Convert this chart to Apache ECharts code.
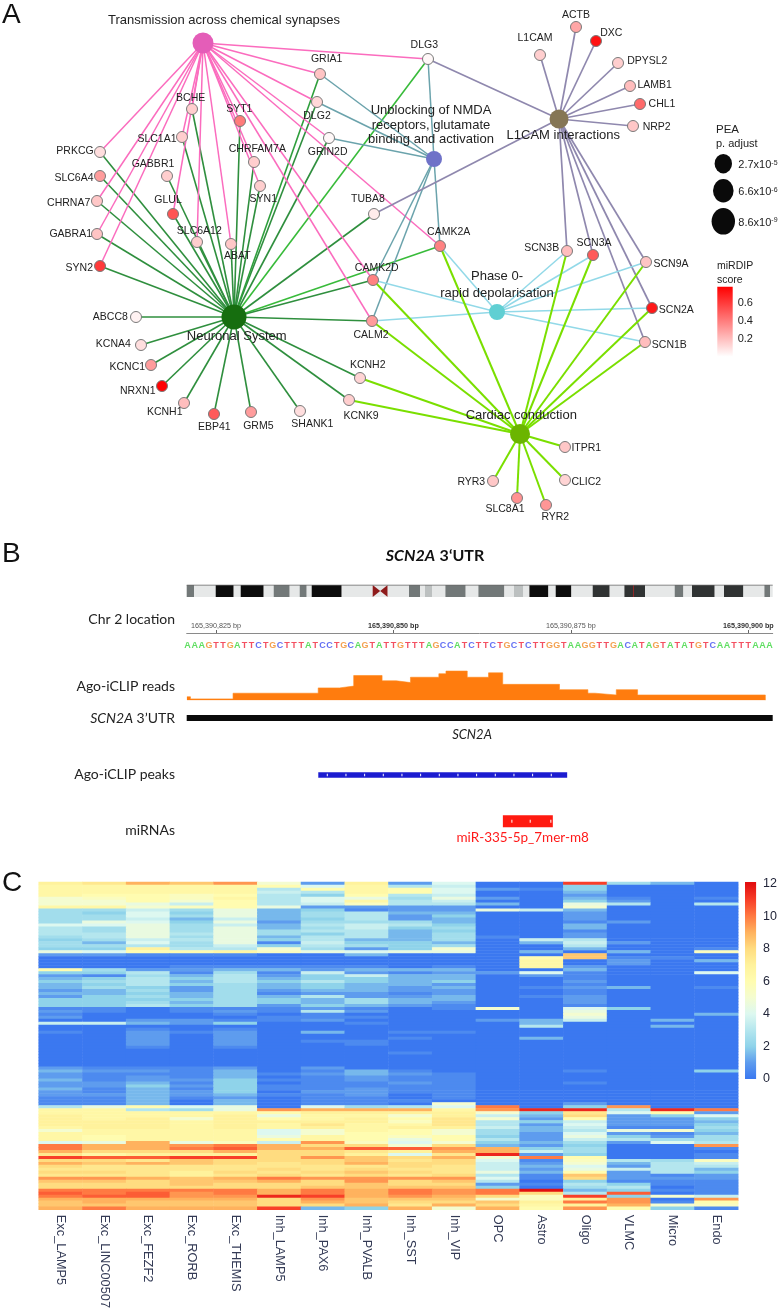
<!DOCTYPE html>
<html><head><meta charset="utf-8">
<style>html,body{margin:0;padding:0;background:#fff}#c{width:780px;height:1311px}</style>
<script src="https://cdn.jsdelivr.net/npm/echarts@6/dist/echarts.min.js"></script>
</head><body><div id="c"></div>
<script>
// ---------- Panel A data ----------
const geneNames = ["GRIA1","DLG2","GRIN2D","BCHE","SYT1","SLC1A1","CHRFAM7A","SYN1","PRKCG","SLC6A4","GABBR1","GLUL","CHRNA7","GABRA1","SLC6A12","ABAT","TUBA8","SYN2","DLG3","L1CAM","ACTB","DXC","DPYSL2","LAMB1","CHL1","NRP2","CAMK2A","SCN3B","SCN3A","SCN9A","CAMK2D","CALM2","ABCC8","KCNA4","KCNC1","NRXN1","KCNH1","EBP41","GRM5","SHANK1","KCNK9","KCNH2","SCN2A","SCN1B","ITPR1","CLIC2","RYR3","SLC8A1","RYR2"];
const geneX = [320,317,329,192,240,182,254,260,100,100,167,173,97,97,197,231,374,100,428,540,576,596,618,630,640,633,440,567,593,646,373,372,136,141,151,162,184,214,251,300,349,360,652,645,565,565,493,517,546];
const geneY = [74,102,138,109,121,137,162,186,152,176,176,214,201,234,242,244,214,266,59,55,27,41,63,86,104,126,246,251,255,262,280,321,317,345,365,386,403,414,412,411,400,378,308,342,447,480,481,498,505];
const geneScore = [.18,.12,.02,.15,.4,.15,.15,.15,.1,.3,.15,.52,.17,.18,.15,.17,.06,.6,.02,.15,.27,.72,.15,.2,.45,.17,.38,.2,.5,.18,.38,.3,.04,.1,.3,.77,.2,.5,.3,.1,.15,.13,.7,.2,.17,.13,.17,.33,.32];
const pathwayNames = ["Transmission across chemical synapses","Neuronal System","L1CAM interactions","Unblocking of NMDA\nreceptors, glutamate\nbinding and activation","Phase 0-\nrapid depolarisation","Cardiac conduction"];
const pathwayX = [203,234,559,434,497,520];
const pathwayY = [43,317,119,159,312,434];
const transmissionGenes = ["PRKCG","CHRNA7","GABRA1","SYN2","BCHE","SLC1A1","GLUL","SLC6A12","ABAT","SYT1","CHRFAM7A","SYN1","GRIA1","DLG2","GRIN2D","DLG3","CAMK2A","CAMK2D","CALM2"];
const neuronalGenes = ["PRKCG","SLC6A4","CHRNA7","GABRA1","SYN2","BCHE","SLC1A1","GABBR1","GLUL","SLC6A12","ABAT","SYT1","CHRFAM7A","SYN1","DLG2","GRIA1","GRIN2D","DLG3","TUBA8","CAMK2A","CAMK2D","CALM2","ABCC8","KCNA4","KCNC1","NRXN1","KCNH1","EBP41","GRM5","SHANK1","KCNK9","KCNH2"];
const l1camGenes = ["DLG3","TUBA8","L1CAM","ACTB","DXC","DPYSL2","LAMB1","CHL1","NRP2","SCN3B","SCN3A","SCN9A","SCN2A","SCN1B"];
const nmdaGenes = ["GRIA1","DLG2","GRIN2D","DLG3","CAMK2A","CAMK2D","CALM2"];
const phaseGenes = ["CAMK2A","CAMK2D","CALM2","SCN3B","SCN3A","SCN9A","SCN2A","SCN1B"];
const cardiacGenes = ["CAMK2A","CAMK2D","CALM2","KCNH2","KCNK9","SCN3B","SCN3A","SCN9A","SCN2A","SCN1B","ITPR1","CLIC2","RYR3","SLC8A1","RYR2"];
const peaLegendValues = ["2.7x10{s|-5}","6.6x10{s|-6}","8.6x10{s|-9}"];
const miRDIPTicks = [0.2,0.4,0.6];

// ---------- Panel B data ----------
const ideogramBands = [[0,7.3,"gray"],[7.3,29,"light"],[29,47,"black"],[47,54,"light"],[54,77,"black"],[77,87,"light"],[87,103,"gray"],[103,113,"light"],[113,120,"gray"],[120,125,"light"],[125,155,"black"],[155,186,"light"],[186,201,"cen"],[201,222.3,"light"],[222.3,233.3,"gray"],[233.3,238.3,"light"],[238.3,245.3,"pale"],[245.3,258.7,"light"],[258.7,279,"gray"],[279,291.7,"light"],[291.7,317.7,"gray"],[317.7,327.3,"light"],[327.3,336.7,"pale"],[336.7,342.7,"light"],[342.7,361.7,"black"],[361.7,369,"light"],[369,384.7,"black"],[384.7,406,"light"],[406,423,"dark"],[423,437.7,"light"],[437.7,458.3,"dark"],[458.3,488,"light"],[488,496.7,"gray"],[496.7,505.3,"light"],[505.3,528,"dark"],[528,537.3,"light"],[537.3,556.7,"dark"],[556.7,577.7,"light"],[577.7,583.3,"gray"],[583.3,586,"light"],[446.4,447,"mark"]];
const rulerTicks = [165390825,165390850,165390875,165390900];
const boldRulerTicks = [165390850,165390900];
const sequence = "AAAGTTGATTCTGCTTTATCCTGCAGTATTGTTTAGCCATCTTCTGCTCTTGGTAAGGTTGACATAGTATATGTCAATTTAAA";
const readsBp = [820.9,821.4,827.4,839.4,842.4,844.4,848.4,850.4,852.4,856.4,857.4,860.4,863.4,865.4,873.4,877.4,878.4,881.4,884.4,902.4,902.41];
const readsCount = [2,0.8,4,7,8,14,11,10,13,15,16.5,13,15.5,9,6,4,3,6,3,3,0];
const utrSpan = [165390820.87,165390903.44];
const peakSpan = [165390839.41,165390874.48];
const mirnaSpan = [165390865.42,165390872.46];
const peakMarks = [840.68,843.31,845.94,848.57,851.2,853.83,856.46,859.09,861.72,864.35,866.98,869.61,872.24];
const mirnaMarks = [866.69,869.27,872.18];

// ---------- Panel C data ----------
const cellTypes = ["Exc_LAMP5","Exc_LINC00507","Exc_FEZF2","Exc_RORB","Exc_THEMIS","Inh_LAMP5","Inh_PAX6","Inh_PVALB","Inh_SST","Inh_VIP","OPC","Astro","Oligo","VLMC","Micro","Endo"];
const heatUpper = [
[7,7.5,9,8.5,9.5,5,1,7,1,4,0,0,11,2.5,1.5,0],
[6.5,6.5,6.5,6.5,6.5,6,4,6.5,3,3.5,0,0,2,0,0,0],
[6.5,6.5,6.5,6.5,6.5,3,6,6.5,6,4,1,.5,2,0,0,0],
[6.5,6.5,6.5,6.5,6.5,3.5,3,6.5,6,4,0,0,1.5,0,0,0],
[6.5,6,6,5.5,6,3,2,6,3,3.5,0,0,1,0,0,0],
[5,5.5,6,5.5,6.5,3,4,4.5,2.5,4.5,1,0,1.5,.5,0,.5],
[5,5,6,5,6,3,4,6.5,3,3.5,0,0,2,1,0,0],
[5,5,4.5,3.5,6,3,3.5,5.5,3,3,1.5,0,4.5,3,0,3],
[6.5,6.5,5,5.5,6,4.5,1,1,1,1,0,0,5,0,0,0],
[2.5,2.5,3.5,2.5,4.5,1.5,2,.5,1,1,4.5,3.5,1.5,0,0,0],
[2.5,2,4,2,4.5,1.5,2.5,3,1.5,1.5,0,0,1,0,0,0],
[2.5,2.5,4,2.5,4.5,1.5,2.5,3,1,2,0,0,1,0,0,0],
[2.5,2.5,3.5,1.5,3.5,1.5,2,3,1,1.5,0,0,1,0,0,0],
[2.5,4.5,4,2,4.5,1,2.5,2.5,2.5,1.5,0,0,.5,1,0,0],
[4,4,4.5,2.5,3.5,1.5,3,3.5,3,2,0,0,1.5,0,0,0],
[3,2.5,4.5,2.5,4.5,1.5,2.5,3.5,2,2.5,0,0,1.5,0,0,0],
[3,2.5,4.5,2.5,4.5,2.5,3,3,1.5,2,0,0,.5,0,0,0],
[3,3,4.5,3,4.5,2.5,2,3,1.5,2.5,0,0,1,0,0,0],
[2.5,3,4.5,2.5,4.5,1.5,3,3,1.5,2.5,.5,0,1,0,0,0],
[2,2.5,3.5,3,4.5,2,3,1.5,1.5,2.5,0,3.5,3,0,0,0],
[2.5,1.5,4,2.5,4.5,.5,3.5,2,2,1.5,0,1.5,3.5,1,0,0],
[2.5,2.5,3,2.5,3.5,2,3,2.5,2,2.5,0,0,3,0,0,0],
[2,2,7,3,3,5,2.5,1,2,5,0,0,1.5,0,0,.5],
[4.5,4,6,6,6.5,5.5,4.5,4,4.5,4.5,0,1.5,0,1.5,0,5.5]];
const heatMiddle = [
[1,1,.5,.5,.5,0,0,1.5,0,0,0,0,8.5,0,0,0],
[0,0,0,0,0,0,0,0,0,0,0,6,8.5,.5,.5,0],
[0,0,0,0,0,0,0,0,0,0,0,6.5,0,1,0,1.5],
[0,0,0,0,0,0,0,0,0,0,0,6.5,0,1,0,0],
[0,0,0,.5,.5,.5,.5,.5,0,.5,0,6.5,1,0,0,0],
[6,2.5,1,1,1.5,1.5,1,1.5,1.5,1.5,0,0,1.5,0,0,0],
[2,2,3,.5,2.5,.5,3.5,1,.5,1,1,4,.5,0,0,4],
[1,.5,2.5,1.5,3,1,2,3.5,1.5,1.5,0,1,.5,0,0,0],
[1.5,2,3,2,3,1.5,2,2,1.5,1.5,0,0,.5,0,0,0],
[2,2.5,3,1.5,3,2,3,2,1.5,2,0,0,1,0,0,0],
[1.5,2,3,2,2.5,1.5,2,1.5,1.5,1,0,0,.5,0,0,0],
[1.5,2.5,2,1,2.5,1.5,2,1.5,1,1.5,0,.5,1,1.5,0,.5],
[1,1.5,2.5,1,2.5,1,1.5,1.5,1,1,0,0,.5,0,0,0],
[1.5,1.5,2,1.5,2.5,.5,1,1,.5,1,0,0,.5,0,0,0],
[1,2,2.5,1.5,2.5,1.5,3,1,1,1.5,0,.5,1,0,0,0],
[2,2,2,2,2.5,2,1.5,2.5,1.5,1.5,0,0,1,0,0,0],
[2,2,2.5,1.5,2.5,2,1.5,2.5,1.5,1,0,0,1,0,0,0],
[2,2,3,2,2.5,1,2,1.5,1,.5,0,0,.5,0,0,0],
[.5,.5,0,.5,.5,.5,1,.5,0,.5,5,0,4,2,0,0],
[1,.5,0,.5,1,.5,3,1,0,0,0,0,4.5,0,0,0],
[.5,0,0,0,.5,0,.5,0,0,0,0,0,5,0,0,1.5],
[1,0,0,0,0,.5,.5,.5,0,0,0,0,4.5,0,0,0],
[0,0,1,1,.5,.5,1,0,0,0,1,1.5,3.5,0,1.5,0],
[3.5,3.5,1.5,1,2,0,0,.5,0,0,0,1.5,0,0,0,0],
[0,0,0,0,0,0,0,0,0,0,0,3,0,0,1.5,0],
[0,0,.5,0,.5,0,0,0,0,0,0,0,0,0,0,0],
[.5,0,1,.5,1,0,1.5,0,.5,.5,0,0,0,0,0,0],
[0,0,1,0,1,0,0,0,0,0,0,0,0,0,0,0],
[0,0,1,0,1,0,0,0,.5,0,0,1.5,0,0,0,0],
[0,0,1,0,1,0,.5,.5,0,0,0,0,0,0,0,0],
[0,0,1,0,1,0,0,.5,0,0,0,0,0,0,0,0],
[0,0,.5,0,.5,0,0,0,0,0,0,0,0,0,0,0],
[0,0,0,0,0,0,0,0,0,0,0,0,0,0,0,0],
[0,0,0,0,0,0,0,0,.5,0,0,0,0,0,0,0],
[0,0,0,0,0,0,0,0,0,0,0,0,0,0,0,0],
[0,0,0,0,0,0,0,0,0,0,0,0,0,0,0,0],
[0,0,0,0,0,0,0,0,0,0,0,0,0,0,0,0],
[0,0,0,0,0,0,0,0,0,0,0,0,0,0,0,0],
[1,.5,.5,.5,1,0,1,0,0,0,0,0,0,0,0,0],
[1.5,1,1,.5,1.5,0,.5,1.5,.5,0,0,0,.5,0,0,2],
[1,.5,.5,.5,1.5,.5,1,1.5,1,.5,0,0,0,0,0,0],
[1,.5,1,.5,1.5,0,.5,1,.5,.5,0,0,0,0,0,0],
[1.5,.5,1,1,2,.5,.5,1,.5,.5,0,0,0,0,0,0],
[1,1,1.5,.5,2,0,.5,.5,1,.5,0,0,.5,0,0,0],
[1,1,2,1,2,.5,.5,.5,.5,.5,0,0,0,0,0,0],
[1.5,.5,1.5,.5,2,.5,.5,1,.5,.5,0,0,0,0,0,0],
[1,.5,1.5,1,2,0,1,1,.5,.5,0,0,0,0,0,0],
[1,1,1.5,1,1.5,.5,.5,1,0,.5,0,0,0,0,0,0],
[.5,.5,1.5,.5,1,0,.5,.5,0,.5,0,0,0,0,0,0],
[.5,.5,1.5,0,1.5,0,.5,.5,.5,0,0,0,0,0,0,0],
[.5,.5,1.5,0,1.5,0,.5,.5,0,5,0,0,1,0,0,0]];
const heatLower = [
[3,4.5,6,4,4.5,0,4,2.5,3,4,10,0,2,9.5,0,0],
[6.5,6.5,3,2.5,4.5,9.5,9,9,9,6.5,9.5,11.5,11.5,3,11.5,10],
[6.5,6.5,6.5,6.5,6.5,6,7,7,7,7,5,2,7.5,4,6,1],
[7,6.5,6.5,6.5,7,4.5,6.5,6.5,5,7,3.5,1.5,8,1,2,4],
[7,6.5,7,5,7,6,6.5,7,6,7.5,5,1,6,1,1,2],
[7,7,7,6.5,7,7,7,7,5.5,7.5,3,2,3.5,1,1,1.5],
[7,7,7,6.5,7,6.5,7.5,6.5,6.5,7.5,3,1,4,1,1,2],
[6.5,7,7,6.5,7,6.5,7,6.5,7,7,3.5,1.5,3.5,.5,.5,2.5],
[5,6.5,6.5,6.5,6.5,4,5,6.5,6,5,2.5,1.5,3,4.5,5,2],
[6.5,6.5,6.5,6.5,6.5,4,5,6,6,5,2.5,1,4,1,.5,1.5],
[6.5,6,6.5,6.5,6.5,4.5,6.5,6,5.5,6,2,1,4.5,2,1,2.5],
[6.5,6,6.5,6.5,6.5,6,6.5,6,4.5,6,3,1,3.5,3,2.5,2.5],
[4,4.5,9,4.5,5.5,3.5,9.5,5.5,4,5,2,1.5,2.5,1,4,3],
[10,9,9,9.5,10,9,8,8,5,8,1.5,1,2,0,0,9.5],
[10,9,9,10,10.5,9,9,10.5,10.5,9.5,9,2,2.5,0,0,.5],
[9,8,8,8,9,8,8,7.5,7,9,9,3.5,2.5,0,0,0],
[7.5,6.5,7,7,7,8,8,7,4,7.5,11.5,1,2,0,0,.5],
[11,10.5,10.5,11,11,8,9.5,8.5,8,9,5,10,6,0,0,.5],
[8,8,7.5,8.5,8,8,8,8.5,7.5,8,4,.5,5.5,3,2.5,5.5],
[9,8.5,9,8.5,8,7.5,8,9,8,8,3.5,1,5,1.5,3,3.5],
[8,7.5,7.5,7.5,7.5,7.5,7.5,7.5,8,7.5,3.5,1.5,4,1,3,3],
[7.5,7.5,7.5,7.5,7.5,8,7.5,8,7.5,7.5,3.5,1,4.5,3.5,3,1.5],
[8,8,7.5,7,8,7.5,8,8.5,8,7.5,4.5,1.5,6,1,3,2],
[7.5,7.5,7.5,7,7.5,8,7.5,8,7.5,8,3,.5,8.5,1,.5,1],
[9.5,9.5,9,8.5,9,10,9.5,9.5,9.5,9.5,4,.5,8,1,1,1],
[8.5,8.5,8,8.5,8.5,9,8,9.5,8,8.5,3,0,2,.5,.5,.5],
[8,8,8,8.5,8,8,8,8.5,8,8,1,.5,3,2,.5,.5],
[8,8,8,8,8,8,8.5,8.5,8.5,8.5,2,0,2.5,3,0,.5],
[10,10,10,10,10,9,10,9,10,9.5,10,12,1.5,2,.5,.5],
[10.5,10,10.5,9.5,10,9,10,9,10,9.5,10,8,3,10.5,0,.5],
[10,10.5,10.5,9.5,9.5,11.5,11,9,9.5,9,8,5.5,11,2,5,3.5],
[9,9,9,9,9,8,9.5,8.5,8.5,8.5,5,5.5,7,9.5,0,9.5],
[8.5,9,8.5,8.5,8.5,8,9,8.5,8,8,8.5,7,10,9.5,.5,6],
[8.5,8.5,8.5,8.5,8.5,8,8,9,7.5,9,8,6.5,7,9,5,5.5],
[9,10,9,9,9,11,1.5,2,9,5,9,6,9.5,6,2,.5]];
const heatPalette = ["#3B78F0","#5E9CEE","#8FD3EA","#B4E6EE","#DDF8F0","#F4FCD0","#FFFCB0","#FFF29C","#FFDC80","#FFB25E","#FF7A42","#F83F28","#E20F10"];
const heatTicks = [0,2,4,6,8,10,12];

// ---------- helpers ----------
const sans = "'Liberation Sans',Arial,sans-serif", cal = "Lato,'Open Sans',sans-serif";
const lerp = echarts.color.lerp;
const scoreColor = s => lerp(Math.min(1, s / 0.775), ["#ffffff", "#ff0000"]);
const labelOffsets = {GRIA1:[6.7,-14.7],DLG2:[0,13.7],GRIN2D:[-1.3,13.7],BCHE:[-1.3,-11.3],SYT1:[-.7,-12.3],SLC1A1:[-25,2],CHRFAM7A:[3.3,-13],SYN1:[3.3,12.7],PRKCG:[-25,-1],SLC6A4:[-26,1.7],GABBR1:[-14,-12],GLUL:[-5,-13.7],CHRNA7:[-28.3,1.7],GABRA1:[-26.3,.3],SLC6A12:[2.3,-10.7],ABAT:[6.3,12],TUBA8:[-6,-14.7],SYN2:[-20.7,1.7],DLG3:[-3.7,-14],L1CAM:[-5,-17],ACTB:[0,-12.3],DXC:[15.3,-7.7],DPYSL2:[29.3,-2],LAMB1:[24.7,-1],CHL1:[22,-.3],NRP2:[23.7,.7],CAMK2A:[8.7,-14],SCN3B:[-25.3,-2.7],SCN3A:[1,-11.7],SCN9A:[25,1.7],CAMK2D:[3.7,-12.3],CALM2:[-1,13.7],ABCC8:[-25.7,0],KCNA4:[-27.7,-1],KCNC1:[-23.7,2.3],NRXN1:[-24.3,5.3],KCNH1:[-19.3,9],EBP41:[.3,13.3],GRM5:[7.3,13.7],SHANK1:[12.3,13],KCNK9:[12,16.3],KCNH2:[7.7,-13.3],SCN2A:[24.3,2],SCN1B:[24.3,3.3],ITPR1:[21.3,.7],CLIC2:[21.3,1.7],RYR3:[-21.7,.7],SLC8A1:[-12,11.3],RYR2:[9.3,12]};
const hubStyle = [
 {c:"#E45DB8",s:21,o:[21,-23],lh:15},{c:"#166E0F",s:25,o:[2.7,19.3],lh:15},{c:"#857655",s:19,o:[4.3,16.7],lh:15},
 {c:"#6F72C8",s:16,o:[-3,-34],lh:14.5},{c:"#60CFD3",s:16,o:[0,-27],lh:17},{c:"#6BB500",s:20,o:[1.3,-18.7],lh:15}];
const nodes = [];
pathwayNames.forEach((n,i)=>nodes.push({name:n,value:[pathwayX[i],pathwayY[i]],symbolSize:hubStyle[i].s,
  itemStyle:{color:hubStyle[i].c,borderWidth:0},
  label:{show:true,position:"inside",offset:hubStyle[i].o,formatter:n,fontSize:13,lineHeight:hubStyle[i].lh,color:"#222",fontFamily:sans,align:"center",verticalAlign:"middle"}}));
geneNames.forEach((n,i)=>nodes.push({name:n,value:[geneX[i],geneY[i]],symbolSize:11,
  itemStyle:{color:scoreColor(geneScore[i]),borderColor:"#7a7a7a",borderWidth:1},
  label:{show:true,position:"inside",offset:labelOffsets[n],formatter:n,fontSize:10.5,color:"#222",fontFamily:sans,align:"center",verticalAlign:"middle"}}));
const edge=(hub,list,color,width,override)=>list.map(g=>({source:pathwayNames[hub],target:g,lineStyle:{color:(override&&override[g])||color,width,opacity:1,curveness:0}}));
const links=[
 ...edge(1,neuronalGenes,"#2F8F3E",1.6,{DLG3:"#38BB3A",CAMK2A:"#38BB3A",GRIA1:"#2E9F3C"}),
 ...edge(0,transmissionGenes,"#FB6CBE",1.5),
 ...edge(3,nmdaGenes,"#6BA3AC",1.5),
 ...edge(2,l1camGenes,"#8F88AE",1.7),
 ...edge(4,phaseGenes,"#92D9E8",1.5),
 ...edge(5,cardiacGenes,"#7ADF00",2)];
const heatRows=[...heatUpper,...heatMiddle,...heatLower];
const heatData=[];heatRows.forEach((r,y)=>r.forEach((v,x)=>heatData.push([x,y,v])));
const baseColor={A:"#37D63A",T:"#F0243A",G:"#F08A24",C:"#3B4BF0"};
const seqData=sequence.split("").map((b,i)=>({value:[165390821+i,13],base:b,label:{color:baseColor[b]}}));
const shade={light:"#E6E8E8",gray:"#727878",pale:"#BCC0C0",dark:"#303333",black:"#0C0C0C",mark:"#D02020"};
const fmtBp=v=>String(Math.round(v)).replace(/\B(?=(\d{3})+$)/g,",")+" bp";
const genomeRange={min:165390820.87,max:165390903.44};
const hidden={show:false};
const hAxis=(gridIndex,extra)=>Object.assign({type:"value",gridIndex,show:false,splitLine:hidden},extra);
const T=(x,y,text,size,extra)=>({type:"text",x,y,silent:true,style:Object.assign({text,fontFamily:sans,fontSize:size,fill:"#222",textAlign:"left",textVerticalAlign:"middle"},extra||{})});
const R=(x,y,text,extra)=>T(x,y,text,14,Object.assign({fontFamily:cal,textAlign:"right"},extra||{}));

const option={
 animation:false,backgroundColor:"#fff",
 grid:[
  {left:0,top:0,width:780,height:540},
  {left:717.3,top:286.7,width:15.4,height:70},
  {left:186.7,top:585,width:586,height:12},
  {left:186.7,top:633,width:586,height:30},
  {left:186.7,top:670,width:586,height:30.3},
  {left:186.7,top:700,width:586,height:150},
  {left:38.7,top:882,width:699.5,height:330},
  {left:745,top:882,width:13,height:197}],
 xAxis:[
  hAxis(0,{min:0,max:780}),
  {type:"category",gridIndex:1,data:["score"],show:false},
  hAxis(2,{min:0,max:586}),
  {type:"value",gridIndex:3,...genomeRange,position:"top",splitLine:hidden,
   axisLine:{show:true,onZero:false,lineStyle:{color:"#8a8a8a",width:1}},
   axisTick:{show:true,length:3,customValues:rulerTicks,lineStyle:{color:"#666"}},
   axisLabel:{show:true,margin:3.5,customValues:rulerTicks,hideOverlap:false,showMinLabel:true,showMaxLabel:true,
     formatter:v=>boldRulerTicks.includes(v)?`{b|${fmtBp(v)}}`:`{n|${fmtBp(v)}}`,
     rich:{b:{fontFamily:sans,fontSize:7.2,fontWeight:"bold",color:"#333"},n:{fontFamily:sans,fontSize:7.2,color:"#555"}}}},
  hAxis(4,genomeRange),
  hAxis(5,genomeRange),
  {type:"category",gridIndex:6,data:cellTypes,axisLine:hidden,axisTick:hidden,splitLine:hidden,
   axisLabel:{rotate:-90,margin:5,interval:0,fontSize:12.8,fontFamily:sans,color:"#333a55",padding:[6,0,0,0]}},
  {type:"category",gridIndex:7,data:["scale"],show:false}],
 yAxis:[
  hAxis(0,{min:0,max:540,inverse:true}),
  {type:"value",gridIndex:1,min:0.01,max:0.775,position:"right",splitLine:hidden,axisLine:hidden,
   axisTick:{show:true,inside:true,length:3,customValues:miRDIPTicks,lineStyle:{color:"#fff"}},
   axisLabel:{customValues:miRDIPTicks,margin:5,fontSize:11,fontFamily:sans,color:"#222",formatter:v=>v.toFixed(1)}},
  hAxis(2,{min:0,max:1}),
  hAxis(3,{min:0,max:30,inverse:true}),
  hAxis(4,{min:0,max:17.1}),
  hAxis(5,{min:0,max:150,inverse:true}),
  {type:"category",gridIndex:6,inverse:true,data:heatRows.map((_,i)=>i),show:false},
  {type:"value",gridIndex:7,min:0,max:12.1,interval:2,position:"right",splitLine:hidden,axisLine:hidden,
   axisTick:{show:true,inside:true,length:3,lineStyle:{color:"#fff"}},
   axisLabel:{customValues:heatTicks,margin:7,fontSize:12.5,fontFamily:sans,color:"#22263a"}}],
 visualMap:[{type:"continuous",show:false,seriesIndex:10,dimension:2,min:0,max:12,inRange:{color:heatPalette}}],
 series:[
  {type:"graph",coordinateSystem:"cartesian2d",xAxisIndex:0,yAxisIndex:0,layout:"none",roam:false,silent:true,data:nodes,links,edgeSymbol:["none","none"],z:3},
  {type:"scatter",xAxisIndex:0,yAxisIndex:0,silent:true,z:3,itemStyle:{color:"#0a0a0a",opacity:1},
   data:[
    {value:[723.3,163.7],symbolSize:[17.4,19.4],text:peaLegendValues[0]},
    {value:[723.3,190.7],symbolSize:[20.6,23.4],text:peaLegendValues[1]},
    {value:[723.3,221.3],symbolSize:[23.4,26.6],text:peaLegendValues[2]}].map(d=>({...d,label:{show:true,position:"inside",align:"left",offset:[15,1.5],formatter:d.text,fontSize:11,fontFamily:sans,color:"#222",rich:{s:{fontSize:7,verticalAlign:"top",lineHeight:12,color:"#222",fontFamily:sans}}}}))},
  {type:"bar",xAxisIndex:1,yAxisIndex:1,silent:true,barWidth:"100%",data:[0.775],
   itemStyle:{color:new echarts.graphic.LinearGradient(0,1,0,0,[{offset:0,color:"#ffffff"},{offset:1,color:"#ff0000"}])}},
  {type:"custom",xAxisIndex:2,yAxisIndex:2,silent:true,data:ideogramBands,
   encode:{x:[0,1],y:[]},
   renderItem:(p,api)=>{
     const a=api.coord([api.value(0),0]),b=api.coord([api.value(1),1]);
     const kind=ideogramBands[p.dataIndex][2];
     if(kind==="cen"){
       const m=(a[0]+b[0])/2,t=b[1],u=a[1],c=(t+u)/2;
       return {type:"group",children:[
         {type:"rect",shape:{x:a[0],y:t,width:b[0]-a[0],height:u-t},style:{fill:"#E6E8E8"}},
         {type:"polygon",shape:{points:[[a[0],t],[a[0],u],[m,c]]},style:{fill:"#8E1B1B"}},
         {type:"polygon",shape:{points:[[b[0],t],[b[0],u],[m,c]]},style:{fill:"#8E1B1B"}}]};
     }
     return {type:"rect",shape:{x:a[0],y:b[1],width:b[0]-a[0],height:a[1]-b[1]},style:{fill:shade[kind]}};
   }},
  {type:"line",xAxisIndex:2,yAxisIndex:2,silent:true,symbol:"none",data:[[0,1],[586,1]],lineStyle:{color:"#666",width:1}},
  {type:"scatter",xAxisIndex:3,yAxisIndex:3,silent:true,symbolSize:0,data:seqData,
   label:{show:true,position:"inside",formatter:p=>p.data.base,fontSize:9,fontWeight:"bold",fontFamily:sans}},
  {type:"line",xAxisIndex:4,yAxisIndex:4,silent:true,step:"end",symbol:"none",
   data:readsBp.map((x,i)=>[165390000+x,readsCount[i]]),
   lineStyle:{color:"#FF8A1E",width:0.6},areaStyle:{color:"#FF7C0E",opacity:1}},
  {type:"line",xAxisIndex:5,yAxisIndex:5,silent:true,symbol:"none",data:[[utrSpan[0],18],[utrSpan[1],18]],lineStyle:{color:"#0a0a0a",width:6}},
  {type:"line",xAxisIndex:5,yAxisIndex:5,silent:true,symbol:"none",data:[[peakSpan[0],75],[peakSpan[1],75]],lineStyle:{color:"#1C1CD0",width:5.5}},
  {type:"line",xAxisIndex:5,yAxisIndex:5,silent:true,symbol:"none",data:[[mirnaSpan[0],121.3],[mirnaSpan[1],121.3]],lineStyle:{color:"#FF1A10",width:12}},
  {type:"heatmap",xAxisIndex:6,yAxisIndex:6,silent:true,data:heatData,progressive:0,itemStyle:{borderWidth:0}},
  {type:"bar",xAxisIndex:7,yAxisIndex:7,silent:true,barWidth:"100%",data:[12.1],
   itemStyle:{color:new echarts.graphic.LinearGradient(0,1,0,0,heatPalette.map((c,i)=>({offset:i/12.1,color:c})).concat([{offset:1,color:heatPalette[12]}]))}},
  {type:"scatter",xAxisIndex:5,yAxisIndex:5,silent:true,symbol:"rect",symbolSize:[1,2.5],itemStyle:{color:"#fff",opacity:1},z:5,
   data:peakMarks.map(x=>[165390000+x,75])},
  {type:"scatter",xAxisIndex:5,yAxisIndex:5,silent:true,symbol:"rect",symbolSize:[1,3],itemStyle:{color:"#fff",opacity:1},z:5,
   data:mirnaMarks.map(x=>[165390000+x,121.3])}
 ],
 graphic:{elements:[
  T(2,15,"A",28,{fill:"#111"}),T(2,554,"B",28,{fill:"#111"}),T(2,883,"C",28,{fill:"#111"}),
  T(716,130,"PEA",11.5),T(716,144,"p. adjust",11),
  T(717,266,"miRDIP",10.5),T(717,280,"score",10.5),
  T(435,556,"{i|SCN2A} {b|3‘UTR}",16,{textAlign:"center",rich:{i:{fontFamily:cal,fontSize:16,fontWeight:"bold",fontStyle:"italic",fill:"#111"},b:{fontFamily:cal,fontSize:16,fontWeight:"bold",fill:"#111"}}}),
  R(175,619,"Chr 2 location"),
  R(175,686,"Ago-iCLIP reads"),
  R(175,718,"{i|SCN2A} {n|3’UTR}",{rich:{i:{fontFamily:cal,fontSize:14,fontStyle:"italic",fill:"#222"},n:{fontFamily:cal,fontSize:14,fill:"#222"}}}),
  R(175,774,"Ago-iCLIP peaks"),
  R(175,830,"miRNAs"),
  T(472,735,"SCN2A",13,{fontFamily:cal,fontStyle:"italic",textAlign:"center"}),
  T(522.7,838,"miR-335-5p_7mer-m8",13.5,{fontFamily:cal,fill:"#FF1A1A",textAlign:"center"})
 ]}
};
echarts.init(document.getElementById("c"),null,{renderer:"canvas"}).setOption(option);
</script></body></html>
